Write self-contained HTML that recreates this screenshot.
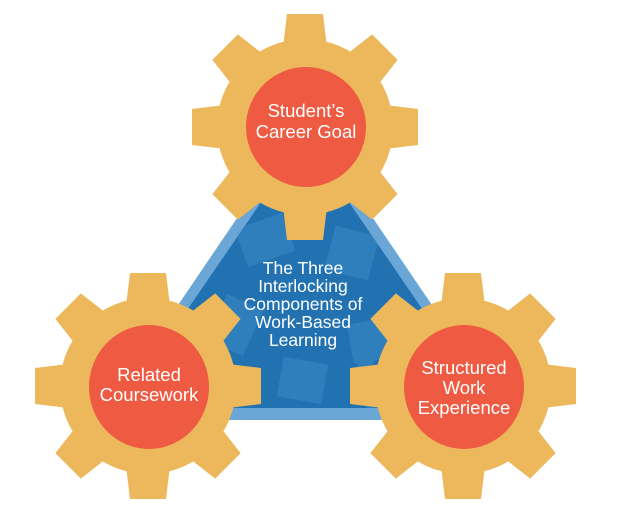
<!DOCTYPE html>
<html><head><meta charset="utf-8"><style>
html,body{margin:0;padding:0;background:#fff;}
svg{display:block;}
text{font-family:"Liberation Sans",Arial,sans-serif;fill:#fff;text-anchor:middle;}
</style></head><body>
<svg width="625" height="528" viewBox="0 0 625 528" xmlns="http://www.w3.org/2000/svg">
<defs>
<g id="gear" fill="#ecb85b">
<circle r="88"/>
<polygon id="t" points="-22,-80 22,-80 18,-113 -18,-113"/>
<use href="#t" transform="rotate(45)"/>
<use href="#t" transform="rotate(90)"/>
<use href="#t" transform="rotate(135)"/>
<use href="#t" transform="rotate(180)"/>
<use href="#t" transform="rotate(225)"/>
<use href="#t" transform="rotate(270)"/>
<use href="#t" transform="rotate(315)"/>
</g>
<clipPath id="tri"><polygon points="305,138 120,408 490,408"/></clipPath>
</defs>
<polygon points="305,118 100,420 510,420" fill="#6aa7d6"/>
<polygon points="305,138 120,408 490,408" fill="#2272b2"/>
<g clip-path="url(#tri)" fill="#3383bf" opacity="0.8">
<rect x="240" y="220" width="50" height="40" transform="rotate(-20 265 240)"/>
<rect x="330" y="230" width="45" height="45" transform="rotate(15 350 250)"/>
<rect x="215" y="300" width="40" height="50" transform="rotate(25 235 325)"/>
<rect x="350" y="320" width="50" height="40" transform="rotate(-10 375 340)"/>
<rect x="280" y="360" width="45" height="40" transform="rotate(10 300 380)"/>
<circle cx="390" cy="380" r="30" fill="none" stroke="#3383bf" stroke-width="12"/>
</g>
<use href="#gear" transform="translate(305,127)"/>
<use href="#gear" transform="translate(148,386)"/>
<use href="#gear" transform="translate(463,386)"/>
<circle cx="306" cy="127" r="60" fill="#ef5a42"/>
<ellipse cx="149" cy="387" rx="60" ry="62" fill="#ef5a42"/>
<ellipse cx="464" cy="387" rx="60" ry="62" fill="#ef5a42"/>
<text font-size="18.5"><tspan x="306" y="117">Student’s</tspan><tspan x="306" y="138">Career Goal</tspan></text>
<text font-size="17.5"><tspan x="303" y="274">The Three</tspan><tspan x="303" y="292">Interlocking</tspan><tspan x="303" y="310">Components of</tspan><tspan x="303" y="328">Work-Based</tspan><tspan x="303" y="346">Learning</tspan></text>
<text font-size="18.5"><tspan x="149" y="381">Related</tspan><tspan x="149" y="401">Coursework</tspan></text>
<text font-size="18.5"><tspan x="464" y="374">Structured</tspan><tspan x="464" y="394">Work</tspan><tspan x="464" y="414">Experience</tspan></text>
</svg>
</body></html>
